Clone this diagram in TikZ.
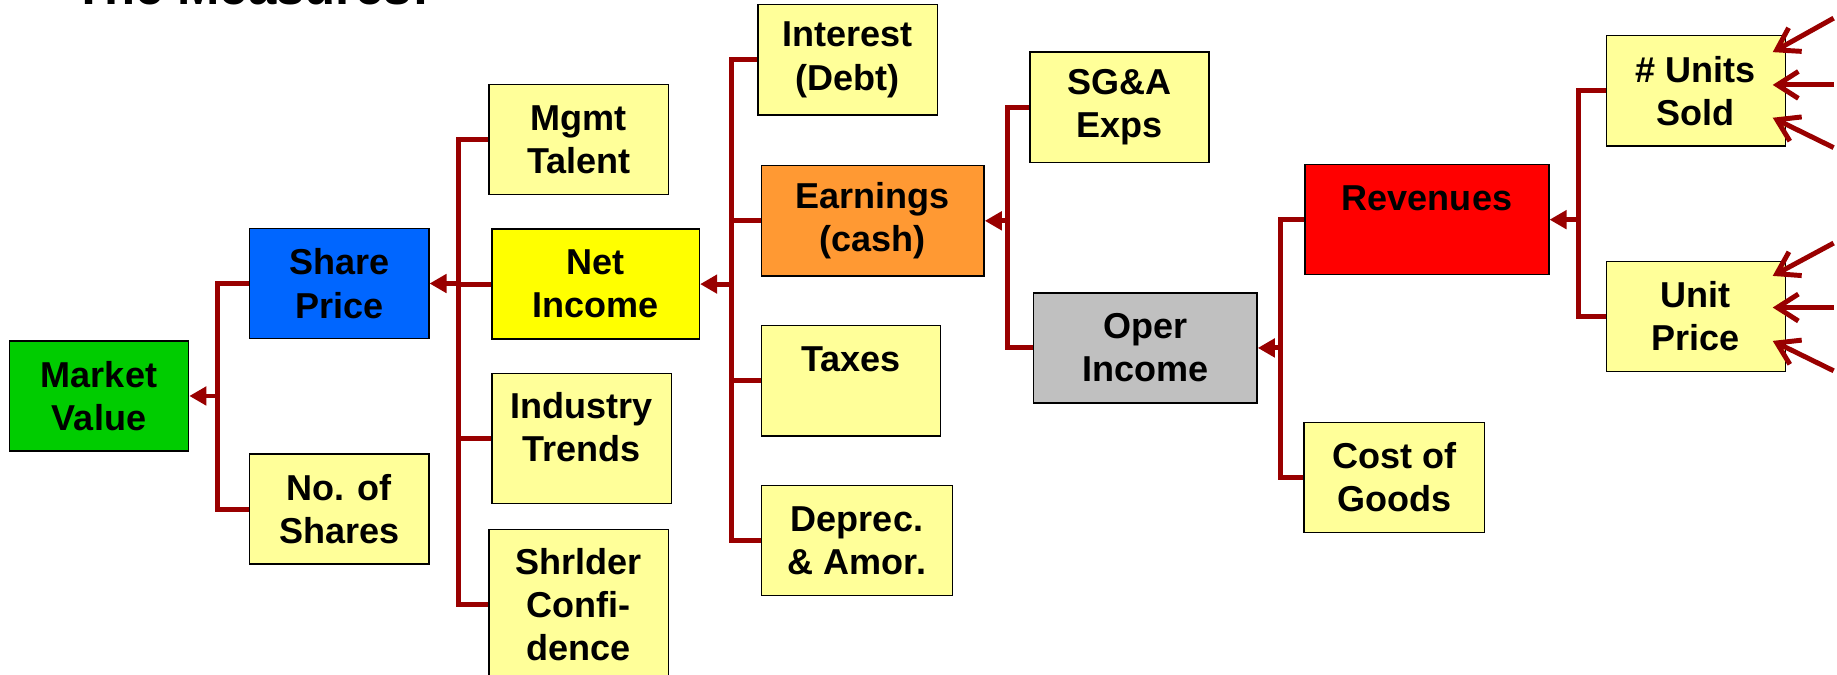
\documentclass[tikz,border=0pt]{standalone}
\usepackage{fontspec}
\setmainfont{Liberation Sans}
\usetikzlibrary{arrows.meta,positioning}

\definecolor{wirered}{HTML}{990000}
\definecolor{paleyellow}{HTML}{FFFF99}
\definecolor{valgreen}{HTML}{00CC00}
\definecolor{priceblue}{HTML}{0066FF}
\definecolor{incyellow}{HTML}{FFFF00}
\definecolor{earnorange}{HTML}{FF9933}
\definecolor{opergray}{HTML}{C0C0C0}
\definecolor{revred}{HTML}{FF0000}

\begin{document}
\begin{tikzpicture}[
  box/.style={draw, line width=0.7pt, fill=paleyellow, align=center,
              minimum width=3.06cm, minimum height=1.88cm, inner sep=2pt,
              font=\fontsize{17.5}{21}\selectfont\bfseries},
  wire/.style={draw=wirered, line width=2.4pt},
  into/.style={wire, -{Triangle[length=2.9mm,width=3.1mm]}},
  feed/.style={wire, -{Straight Barb[length=3.6mm,width=4.6mm]}}
]
\useasboundingbox (0,0) rectangle (31.36,11.52);

\node[font=\fontsize{24.7}{30}\selectfont\bfseries, anchor=base west, inner sep=0pt]
  (title) at (1.24,11.45) {The Measures:};

% boxes
\node[box, fill=valgreen] (market) at (1.69,4.76) {Market\\Value};
\node[box, fill=priceblue] (price) at (5.79,6.68) {Share\\Price};
\node[box] (shares) at (5.79,2.83) {No. of\\Shares};
\node[box] (mgmt) at (9.88,9.14) {Mgmt\\Talent};
\node[box, fill=incyellow, minimum width=3.54cm] (netinc) at (10.17,6.67) {Net\\Income};
\node[box, minimum height=2.22cm] (industry) at (9.93,4.03) {Industry\\Trends\\[-9.6pt]\mbox{}};
\node[box, minimum height=2.56cm] (holders) at (9.88,1.2) {Shrlder\\Confi-\\dence};
\node[box] (interest) at (14.47,10.5) {Interest\\(Debt)};
\node[box, fill=earnorange, minimum width=3.8cm] (earnings) at (14.9,7.75) {Earnings\\(cash)};
\node[box] (taxes) at (14.53,5.02) {Taxes\\\mbox{}};
\node[box, minimum width=3.26cm] (deprec) at (14.63,2.29) {Deprec.\\\& Amor.};
\node[box] (sga) at (19.11,9.69) {SG\&A\\Exps};
\node[box, fill=opergray, minimum width=3.82cm] (operinc) at (19.55,5.58) {Oper\\Income};
\node[box, minimum width=3.08cm] (cogs) at (23.8,3.37) {Cost of\\Goods};
\node[box, fill=revred, minimum width=4.16cm] (revenue) at (24.36,7.77) {Revenues\\\mbox{}};
\node[box] (units) at (28.95,9.97) {\# Units\\Sold};
\node[box] (unitprice) at (28.95,6.12) {Unit\\Price};

% junctions on the buses
\coordinate (jmarket) at (3.72,4.76);
\coordinate (jprice) at (7.82,6.68);
\coordinate (jnet) at (12.48,6.67);
\coordinate (jearn) at (17.2,7.75);
\coordinate (joper) at (21.86,5.58);
\coordinate (jrev) at (26.94,7.77);

\draw[wire] (price.west) -| (jmarket) |- (shares.west);
\draw[into] (jmarket) -- (market.east);

\draw[wire] (mgmt.west) -| (jprice) |- (holders.west);
\draw[wire] (netinc.west) -| (jprice);
\draw[wire] (industry.west) -| (jprice);
\draw[into] (jprice) -- (price.east);

\draw[wire] (interest.west) -| (jnet) |- (deprec.west);
\draw[wire] (earnings.west) -| (jnet);
\draw[wire] (taxes.west) -| (jnet);
\draw[into] (jnet) -- (netinc.east);

\draw[wire] (sga.west) -| (jearn) |- (operinc.west);
\draw[into] (jearn) -- (earnings.east);

\draw[wire] (revenue.west) -| (joper) |- (cogs.west);
\draw[into] (joper) -- (operinc.east);

\draw[wire] (units.west) -| (jrev) |- (unitprice.west);
\draw[into] (jrev) -- (revenue.east);

% incoming drivers on the right
\foreach \b/\n/\sy/\ty in {units/1/1.24/0.66, units/2/0.10/0.10, units/3/-0.97/-0.46,
    unitprice/1/1.25/0.69, unitprice/2/0.15/0.15, unitprice/3/-0.93/-0.42} {
  \coordinate (in\b\n) at ([xshift=0.81cm,yshift=\sy cm]\b.east);
  \draw[feed] (in\b\n) -- ([xshift=-2.3mm,yshift=\ty cm]\b.east);
}
\end{tikzpicture}
\end{document}
